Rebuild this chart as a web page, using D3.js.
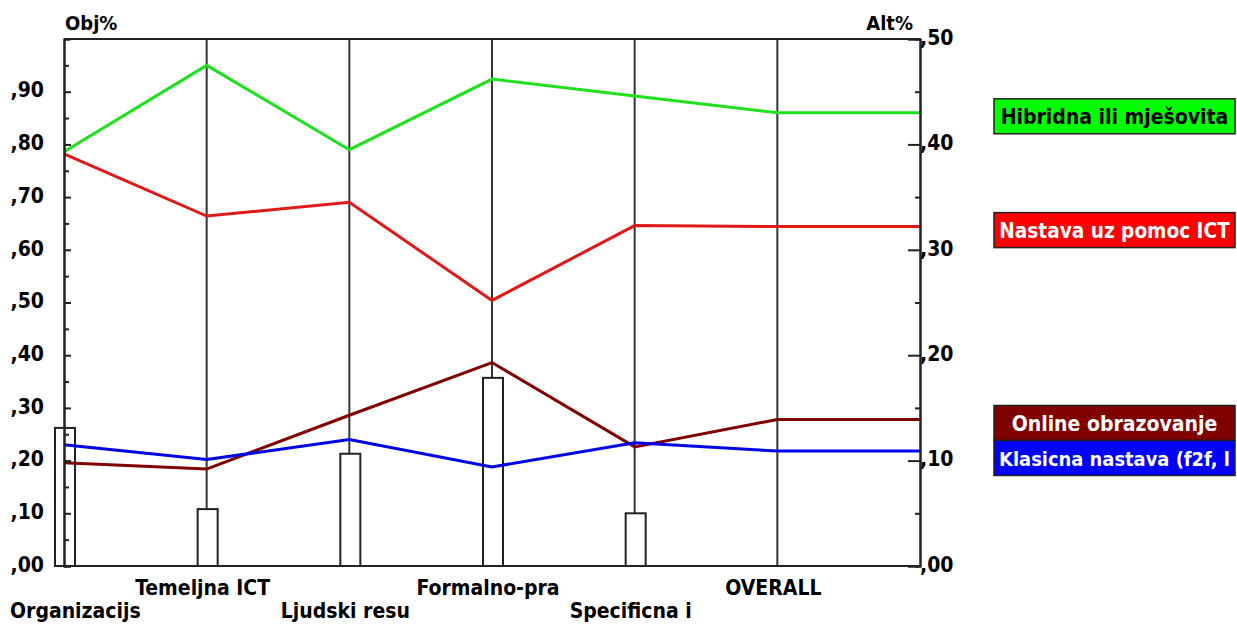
<!DOCTYPE html>
<html>
<head>
<meta charset="utf-8">
<script src="https://cdn.jsdelivr.net/npm/d3@7"></script>
<style>
  body { margin: 0; background: #fff; }
  text { font-family: "DejaVu Sans Condensed", "DejaVu Sans", sans-serif; font-weight: bold; font-stretch: condensed; }
</style>
</head>
<body>
<div id="chart"></div>
<script>
const categories = ["Organizacijs", "Temeljna ICT", "Ljudski resu", "Formalno-pra", "Specificna i", "OVERALL"];
// Obj% (left axis) - bars
const objPct = [0.262, 0.108, 0.213, 0.357, 0.100, null];
// Alt% (right axis) - lines
const seriesNames = ["Hibridna ili mješovita", "Nastava uz pomoc ICT", "Online obrazovanje", "Klasicna nastava (f2f, l"];
const hibridna = [0.393, 0.475, 0.395, 0.462, 0.446, 0.430];
const nastavaICT = [0.391, 0.332, 0.345, 0.252, 0.323, 0.322];
const online = [0.098, 0.092, 0.143, 0.193, 0.113, 0.139];
const klasicna = [0.115, 0.101, 0.120, 0.094, 0.117, 0.109];
const leftTicks = [0, 0.1, 0.2, 0.3, 0.4, 0.5, 0.6, 0.7, 0.8, 0.9];
const rightTicks = [0, 0.1, 0.2, 0.3, 0.4, 0.5];

const series = [
  { name: seriesNames[0], values: hibridna, color: "#1ee21e", fill: "#00ff00", text: "#000" },
  { name: seriesNames[1], values: nastavaICT, color: "#e01818", fill: "#ff0000", text: "#fff" },
  { name: seriesNames[2], values: online, color: "#800000", fill: "#800000", text: "#fff" },
  { name: seriesNames[3], values: klasicna, color: "#0000e6", fill: "#0000ff", text: "#fff" }
];

const W = 1237, H = 625;
const plotL = 64, plotR = 920, plotT = 39, plotB = 566;

const svg = d3.select("#chart").append("svg")
  .attr("width", W).attr("height", H);

const x = d3.scaleLinear().domain([0, categories.length]).range([plotL, plotR]);
const yObj = d3.scaleLinear().domain([0, 1]).range([plotB, plotT]);
const yAlt = d3.scaleLinear().domain([0, 0.5]).range([plotB, plotT]);

const fmt = v => d3.format(".2f")(v).replace(/^0\./, ",");

// category separators
svg.selectAll(".sep")
  .data(d3.range(1, categories.length))
  .enter().append("line")
  .attr("x1", d => x(d)).attr("x2", d => x(d))
  .attr("y1", plotT).attr("y2", plotB)
  .attr("stroke", "#333").attr("stroke-width", 2);

// frame top & bottom
svg.append("line").attr("x1", plotL).attr("x2", plotR).attr("y1", plotT).attr("y2", plotT)
  .attr("stroke", "#222").attr("stroke-width", 2);
svg.append("line").attr("x1", plotL).attr("x2", plotR).attr("y1", plotB).attr("y2", plotB)
  .attr("stroke", "#222").attr("stroke-width", 2);

// bars
svg.selectAll(".bar")
  .data(objPct.map((v, i) => ({ v, i })).filter(d => d.v != null))
  .enter().append("rect")
  .attr("x", d => x(d.i) - 9)
  .attr("y", d => yObj(d.v))
  .attr("width", 20)
  .attr("height", d => plotB - yObj(d.v))
  .attr("fill", "#fff").attr("stroke", "#222").attr("stroke-width", 2);

// lines
const line = d3.line().x(d => x(d.i)).y(d => yAlt(d.v));
series.forEach(s => {
  const pts = s.values.map((v, i) => ({ v, i }));
  pts.push({ v: s.values[s.values.length - 1], i: categories.length });
  svg.append("path")
    .datum(pts)
    .attr("d", line)
    .attr("fill", "none")
    .attr("stroke", s.color)
    .attr("stroke-width", 3)
    .attr("stroke-linejoin", "miter");
});

// left axis
const gl = svg.append("g").attr("transform", `translate(${plotL},0)`);
gl.call(d3.axisLeft(yObj).tickValues(leftTicks).tickSize(-7).tickPadding(20).tickFormat(fmt));
gl.append("g").call(d3.axisLeft(yObj).tickValues(d3.range(0.05, 1, 0.1)).tickSize(-5).tickFormat(""));
// right axis
const gr = svg.append("g").attr("transform", `translate(${plotR},0)`);
gr.call(d3.axisRight(yAlt).tickValues(rightTicks).tickSize(-12).tickPadding(0).tickFormat(fmt));
gr.append("g").call(d3.axisRight(yAlt).tickValues(d3.range(0.05, 0.5, 0.1)).tickSize(-5).tickFormat(""));

svg.selectAll(".domain").attr("stroke", "#222").attr("stroke-width", 2);
svg.selectAll(".tick line").attr("stroke", "#222").attr("stroke-width", 2);
svg.selectAll(".tick text")
  .attr("font-size", 21)
  .attr("fill", "#000")
  .attr("dy", "0.25em");
svg.selectAll("g[font-family]").attr("font-family", null);

// axis titles
svg.append("text").attr("x", 65).attr("y", 30).attr("font-size", 20).text("Obj%");
svg.append("text").attr("x", 913).attr("y", 30).attr("font-size", 20)
  .attr("text-anchor", "end").text("Alt%");

// category labels
svg.selectAll(".cat")
  .data(categories)
  .enter().append("text")
  .attr("class", "cat")
  .attr("x", (d, i) => x(i) - 4)
  .attr("y", (d, i) => i % 2 ? 595 : 618)
  .attr("font-size", 21)
  .attr("text-anchor", "middle")
  .text(d => d)
  .each(function () {
    const b = this.getBBox();
    if (b.x < 10) d3.select(this).attr("x", +d3.select(this).attr("x") + (10 - b.x));
  });

// legend
const boxX = 994, boxW = 241, boxH = 35;
let prevBottom = -Infinity;
const order = series.map(s => ({ s, y: yAlt(s.values[s.values.length - 1]) - 14 }))
  .sort((a, b) => a.y - b.y);
order.forEach(o => {
  const yTop = Math.max(o.y, prevBottom);
  prevBottom = yTop + boxH;
  const g = svg.append("g").attr("transform", `translate(${boxX},${yTop})`);
  g.append("rect").attr("width", boxW).attr("height", boxH)
    .attr("fill", o.s.fill).attr("stroke", "#222").attr("stroke-width", 1.5);
  const t = g.append("text")
    .attr("y", boxH / 2 + 8)
    .attr("font-size", 21)
    .attr("fill", o.s.text)
    .text(o.s.name);
  const tw = t.node().getComputedTextLength();
  if (tw > boxW - 10) t.attr("font-size", Math.floor(21 * (boxW - 10) / tw * 10) / 10);
  t.attr("x", boxW / 2).attr("text-anchor", "middle");
});
</script>
</body>
</html>
